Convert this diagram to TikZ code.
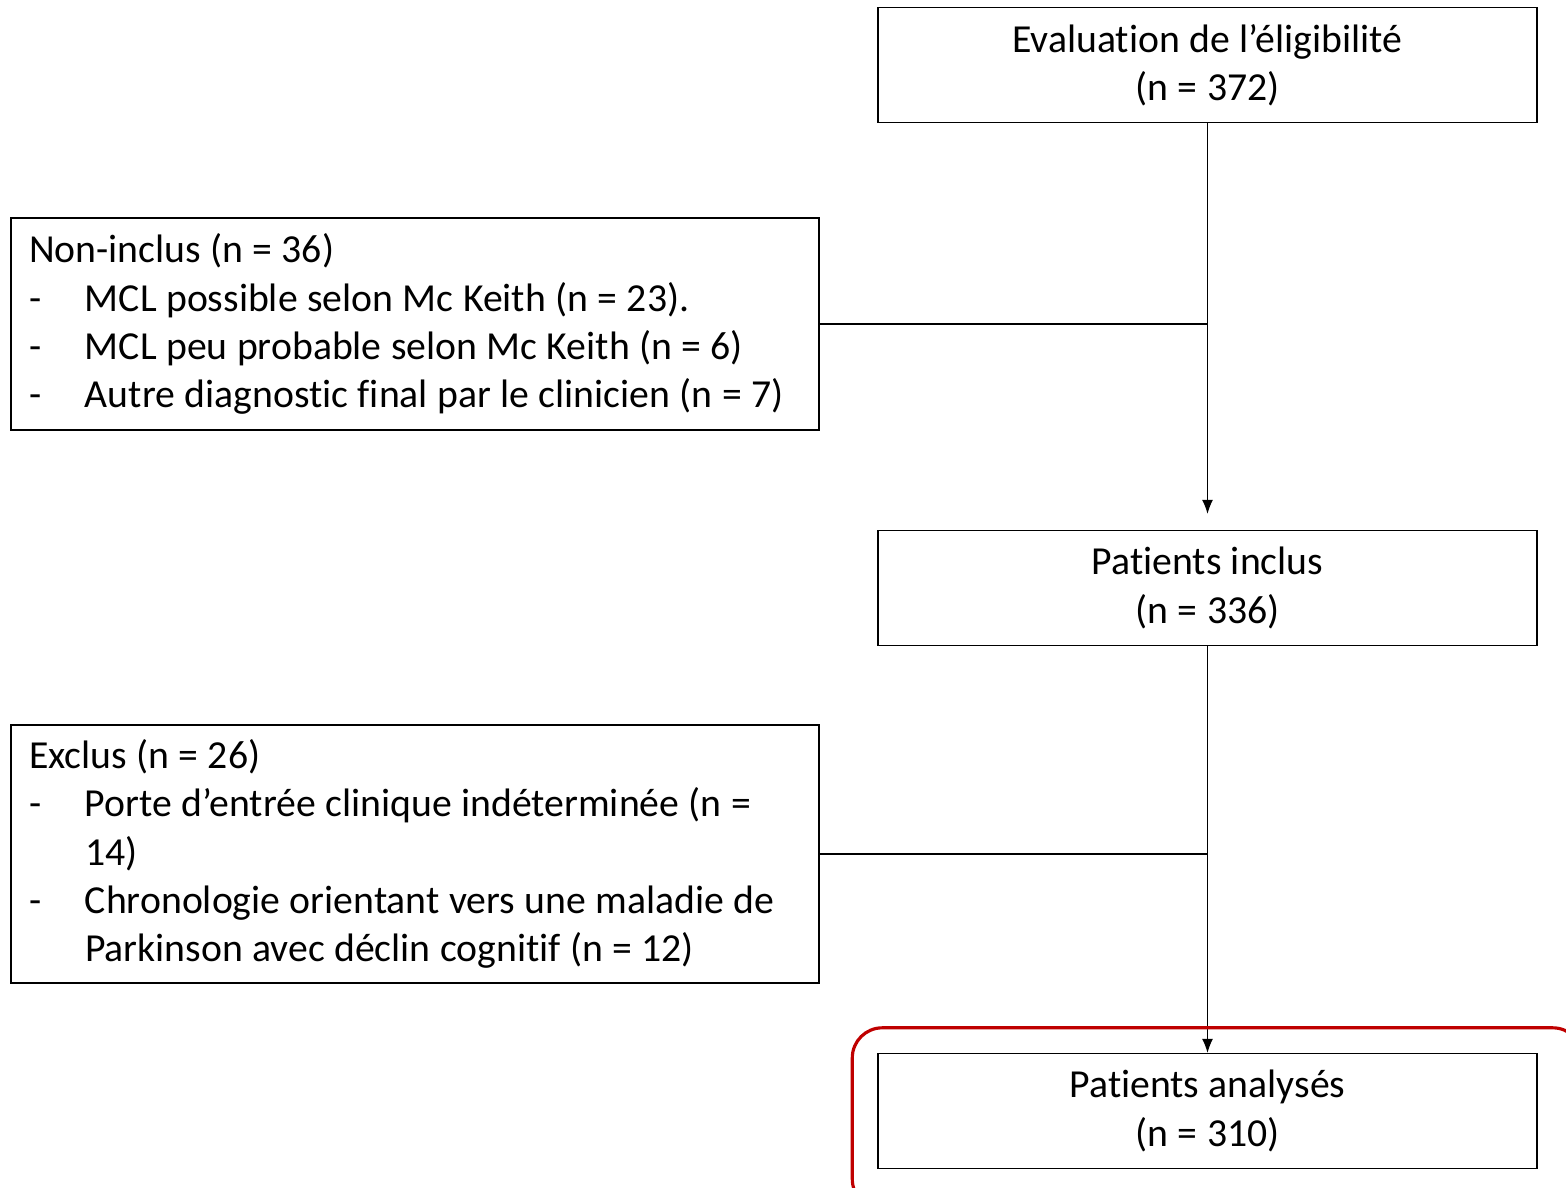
\documentclass[tikz,border=0pt]{standalone}
\usepackage{fontspec}
\setmainfont{Carlito}[Ligatures=NoCommon,WordSpace=1.05]
\usetikzlibrary{positioning,calc,arrows.meta}

\newcommand{\tiret}{\makebox[1.12cm][l]{-}}
\newcommand{\suite}{\hspace*{1.12cm}}

\begin{document}
\begin{tikzpicture}
	[   box/.style={draw=black,line width=0.8pt,minimum width=13.18cm,minimum height=2.3cm,align=center,font=\fontsize{22.6}{27.4}\selectfont},
	    listbox/.style={draw=black,line width=0.8pt,text width=15.44cm,inner xsep=0.36cm,minimum height=#1,align=flush left,font=\fontsize{22.6}{27.4}\selectfont},
	]
	\tikzset{normal arrow/.style={draw,line width=0.6pt,-{Latex[length=0.28cm,width=0.22cm]}}}
	\tikzset{side line/.style={draw,line width=0.6pt}}
	\useasboundingbox (0,0) rectangle (31.32,-23.76);
	
	\node[box] (eval) at (24.15,-1.3) {Evaluation de l’éligibilité\\(n = 372)};
	\node[box] (inclus) at (24.15,-11.76) {Patients inclus\\(n = 336)};
	\node[box] (analyse) at (24.15,-22.22) {Patients analysés\\(n = 310)};
	
	\node[listbox=4.24cm] (noninc) at (8.3,-6.48) {Non-inclus (n = 36)\\
		\tiret MCL possible selon Mc Keith (n = 23).\\
		\tiret MCL peu probable selon Mc Keith (n = 6)\\
		\tiret Autre diagnostic final par le clinicien (n = 7)};
	
	\node[listbox=5.16cm] (exclus) at (8.3,-17.08) {Exclus (n = 26)\\
		\tiret Porte d’entrée clinique indéterminée (n =\\
		\suite 14)\\
		\tiret Chronologie orientant vers une maladie de\\
		\suite Parkinson avec déclin cognitif (n = 12)};
	
	\path[normal arrow,shorten >=0.32cm] (eval) -- (inclus);
	\path[normal arrow] (inclus) -- (analyse);
	
	\path[side line] (noninc.east) -- (noninc.east -| eval.south);
	\path[side line] (exclus.east) -- (exclus.east -| inclus.south);
	
	% cadre rouge
	\draw[red!75!black,line width=1.8pt,rounded corners=0.6cm] ($(analyse.north west)+(-0.5,0.5)$) rectangle ($(analyse.south east)+(0.9,-0.8)$);
\end{tikzpicture}
\end{document}
